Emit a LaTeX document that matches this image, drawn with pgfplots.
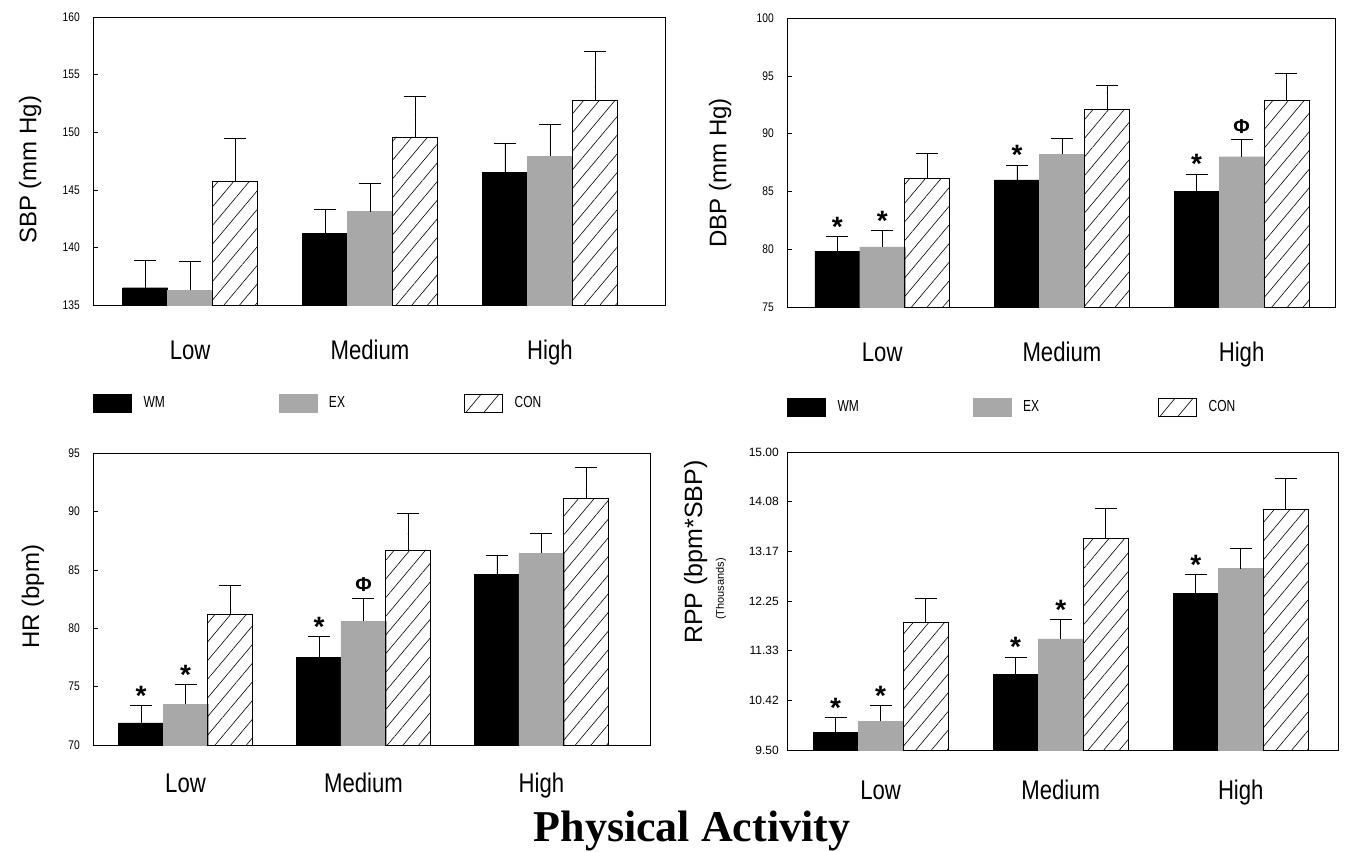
\documentclass[border=0pt]{standalone}
\usepackage{fontspec}
\setmainfont{Liberation Sans}
\newfontfamily\narrowfont[FakeStretch=0.82]{Liberation Sans}
\newfontfamily\legfont[FakeStretch=0.75]{Liberation Sans}
\newfontfamily\serifbf{Liberation Serif}
\usepackage{pgfplots}
\pgfplotsset{compat=1.18}
\usetikzlibrary{patterns.meta}
\definecolor{exgray}{RGB}{168,168,168}

\pgfplotsset{
  panel/.style={
    scale only axis,
    axis line style={line width=0.8pt},
    xtick={0,1,2}, xticklabels={Low,Medium,High},
    x tick style={draw=none},
    x tick label style={font=\narrowfont\fontsize{27}{27}\selectfont, anchor=base},
    ytick pos=left, tick align=inside, major tick length=5pt,
    y tick style={line width=0.6pt, black},
    y tick label style={font=\narrowfont\fontsize{12.5}{12.5}\selectfont, inner sep=0pt, anchor=east},
    /pgf/number format/assume math mode=true,
    y label style={font=\fontsize{24}{24}\selectfont, anchor=center},
    legend style={draw=none, fill=none, inner sep=0pt, legend columns=3,
      column sep=0pt, font=\legfont\fontsize{16}{16}\selectfont,
      nodes={inner sep=0pt},
      /tikz/every odd column/.append style={column sep=12pt}},
    legend cell align=left,
  },
  ebar/.style={error bars/y dir=plus, error bars/y explicit,
    error bars/error mark=|,
    error bars/error bar style={line width=0.6pt, draw=black, solid},
    error bars/error mark options={line width=0.6pt, draw=black, mark size=11pt}},
  wm/.style={ybar, bar width=45pt, bar shift=0pt, fill=black, draw=black, ebar},
  ex/.style={ybar, bar width=45pt, bar shift=0pt, fill=exgray, draw=exgray, ebar},
  con/.style={ybar, bar width=45pt, bar shift=0pt, draw=black, line width=0.6pt,
    pattern={Lines[angle=50,distance=12pt,line width=0.6pt]}, ebar},
  star/.style={only marks, mark=none, forget plot, nodes near coords, point meta=explicit symbolic,
    nodes near coords style={font=\bfseries\fontsize{28}{28}\selectfont, anchor=south, inner sep=0pt, yshift=0pt, text=black}},
  phi/.style={only marks, mark=none, forget plot, nodes near coords, point meta=explicit symbolic,
    nodes near coords style={font=\bfseries\fontsize{20}{20}\selectfont, anchor=south, inner sep=0pt, yshift=6pt, text=black}},
}

\begin{document}
\begin{tikzpicture}
\useasboundingbox (0,0) rectangle (1345pt,-852pt);

% ---------------- SBP ----------------
\begin{axis}[panel,
  at={(93pt,-305pt)}, anchor=south west, width=572pt, height=288pt,
  xmin=-0.54, xmax=2.64, ymin=135, ymax=160, ytick={135,140,...,160},
  y tick label style={xshift=-13pt},
  x tick label style={yshift=-54pt},
  ylabel={SBP (mm Hg)},
  y label style={at={(axis description cs:-0.110,0.469)}},
  legend style={at={(axis description cs:0,-0.340)}, anchor=west},
]
\addlegendimage{legend image code/.code={\fill[black] (0pt,-9pt) rectangle (38pt,9pt);}}
\addlegendimage{legend image code/.code={\fill[exgray] (0pt,-9pt) rectangle (38pt,9pt);}}
\addlegendimage{legend image code/.code={\draw[line width=0.6pt] (0pt,-9pt) rectangle (38pt,9pt);
    \draw[line width=0.6pt] (2pt,-9pt) -- (17pt,9pt) (20pt,-9pt) -- (35pt,9pt);}}
\legend{\makebox[135pt][l]{WM},\makebox[135pt][l]{EX},\makebox[135pt][l]{CON}}
\addplot[wm] coordinates {(-0.25,136.5) +- (0,2.4) (0.75,141.2) +- (0,2.1) (1.75,146.5) +- (0,2.5)};
\addplot[ex] coordinates {(0,136.3) +- (0,2.5) (1,143.1) +- (0,2.5) (2,147.9) +- (0,2.8)};
\addplot[con] coordinates {(0.25,145.7) +- (0,3.8) (1.25,149.6) +- (0,3.5) (2.25,152.8) +- (0,4.2)};
\end{axis}

% ---------------- DBP ----------------
\begin{axis}[panel,
  at={(787pt,-307pt)}, anchor=south west, width=548pt, height=289pt,
  xmin=-0.53, xmax=2.52, ymin=75, ymax=100, ytick={75,80,...,100},
  y tick label style={xshift=-13pt},
  x tick label style={yshift=-54pt},
  ylabel={DBP (mm Hg)},
  y label style={at={(axis description cs:-0.122,0.464)}},
  legend style={at={(axis description cs:0,-0.346)}, anchor=west},
]
\addlegendimage{legend image code/.code={\fill[black] (0pt,-9pt) rectangle (38pt,9pt);}}
\addlegendimage{legend image code/.code={\fill[exgray] (0pt,-9pt) rectangle (38pt,9pt);}}
\addlegendimage{legend image code/.code={\draw[line width=0.6pt] (0pt,-9pt) rectangle (38pt,9pt);
    \draw[line width=0.6pt] (2pt,-9pt) -- (17pt,9pt) (20pt,-9pt) -- (35pt,9pt);}}
\legend{\makebox[135pt][l]{WM},\makebox[135pt][l]{EX},\makebox[135pt][l]{CON}}
\addplot[wm] coordinates {(-0.25,79.8) +- (0,1.3) (0.75,86.0) +- (0,1.3) (1.75,85.0) +- (0,1.5)};
\addplot[ex] coordinates {(0,80.2) +- (0,1.4) (1,88.2) +- (0,1.4) (2,88.0) +- (0,1.5)};
\addplot[con] coordinates {(0.25,86.1) +- (0,2.2) (1.25,92.1) +- (0,2.1) (2.25,92.9) +- (0,2.3)};
\addplot[star] coordinates {(-0.25,81.1) [*] (0,81.6) [*] (0.75,87.3) [*] (1.75,86.5) [*]};
\addplot[phi] coordinates {(2.0,89.5) [Φ]};
\end{axis}

% ---------------- HR ----------------
\begin{axis}[panel,
  at={(93pt,-745pt)}, anchor=south west, width=557pt, height=292pt,
  xmin=-0.52, xmax=2.61, ymin=70, ymax=95, ytick={70,75,...,95},
  y tick label style={xshift=-13pt},
  x tick label style={yshift=-47pt},
  ylabel={HR (bpm)},
  y label style={at={(axis description cs:-0.108,0.507)}},
]
\addplot[wm] coordinates {(-0.25,71.9) +- (0,1.5) (0.75,77.5) +- (0,1.8) (1.75,84.6) +- (0,1.6)};
\addplot[ex] coordinates {(0,73.5) +- (0,1.7) (1,80.6) +- (0,2.0) (2,86.4) +- (0,1.7)};
\addplot[con] coordinates {(0.25,81.2) +- (0,2.5) (1.25,86.7) +- (0,3.1) (2.25,91.1) +- (0,2.7)};
\addplot[star] coordinates {(-0.25,73.4) [*] (0,75.2) [*] (0.75,79.3) [*]};
\addplot[phi] coordinates {(1.0,82.6) [Φ]};
\end{axis}

% ---------------- RPP ----------------
\begin{axis}[panel,
  at={(787pt,-750pt)}, anchor=south west, width=551pt, height=298pt,
  xmin=-0.52, xmax=2.54, ymin=9.5, ymax=15,
  ytick={9.5,10.416667,11.333333,12.25,13.166667,14.083333,15},
  yticklabels={9.50,10.42,11.33,12.25,13.17,14.08,15.00},
  y tick label style={xshift=-8pt, font=\fontsize{12}{12}\selectfont},
  x tick label style={yshift=-49pt},
  ylabel={RPP (bpm*SBP)},
  y label style={at={(axis description cs:-0.166,0.664)}, font=\fontsize{25}{25}\selectfont},
]
\addplot[wm] coordinates {(-0.25,9.83) +- (0,0.27) (0.75,10.89) +- (0,0.33) (1.75,12.39) +- (0,0.35)};
\addplot[ex] coordinates {(0,10.03) +- (0,0.29) (1,11.55) +- (0,0.36) (2,12.85) +- (0,0.38)};
\addplot[con] coordinates {(0.25,11.86) +- (0,0.44) (1.25,13.40) +- (0,0.56) (2.25,13.94) +- (0,0.57)};
\addplot[star] coordinates {(-0.25,10.10) [*] (0,10.32) [*] (0.75,11.22) [*] (1.0,11.91) [*] (1.75,12.74) [*]};
\end{axis}

\node[rotate=90, font=\fontsize{11}{11}\selectfont, anchor=center] at (721pt,-589pt) {(Thousands)};
\node[font=\serifbf\bfseries\fontsize{44}{44}\selectfont, anchor=base] at (692pt,-841pt) {Physical Activity};
\end{tikzpicture}
\end{document}
